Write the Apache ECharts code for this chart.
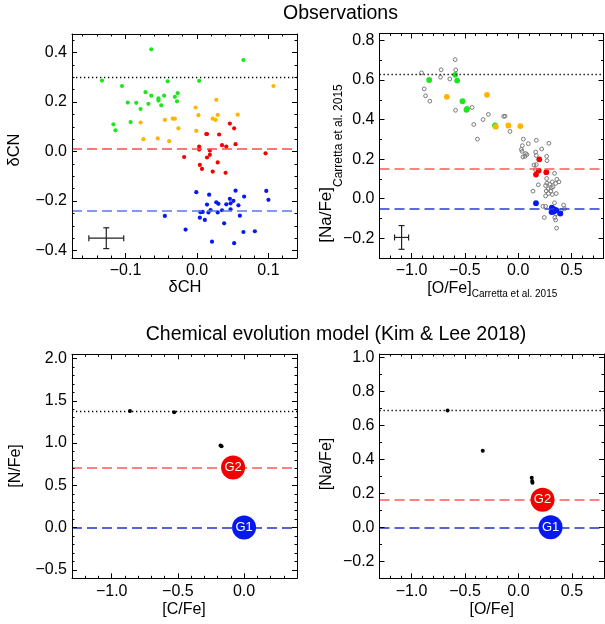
<!DOCTYPE html>
<html>
<head>
<meta charset="utf-8">
<script src="https://cdn.jsdelivr.net/npm/echarts@6/dist/echarts.min.js"></script>
<style>
  html, body { margin: 0; padding: 0; background: #fff; }
  #chart { width: 605px; height: 624px; }
</style>
</head>
<body>
<div id="chart"></div>
<script>
// ---- Observations: delta CH vs delta CN, grouped by population ----
const CNCH_GREEN = [
  [-0.133, 0.287], [-0.064, 0.413], [0.065, 0.370], [-0.105, 0.265], [-0.041, 0.284],
  [0.003, 0.286], [-0.072, 0.240], [-0.064, 0.226], [-0.054, 0.215], [-0.054, 0.206],
  [-0.046, 0.226], [-0.031, 0.221], [-0.027, 0.236], [-0.097, 0.198], [-0.085, 0.197],
  [-0.079, 0.172], [-0.068, 0.193], [-0.050, 0.187], [-0.028, 0.203], [-0.117, 0.110],
  [-0.114, 0.086], [-0.093, 0.119]
];
const CNCH_ORANGE = [
  [-0.079, 0.117], [-0.075, 0.050], [-0.055, 0.053], [-0.045, 0.128], [-0.039, 0.042],
  [-0.034, 0.133], [-0.031, 0.133], [-0.026, 0.094], [-0.002, 0.178], [-0.001, 0.084],
  [0.002, 0.147], [0.027, 0.209], [0.029, 0.148], [0.022, 0.133], [0.026, 0.128],
  [0.057, 0.149], [0.107, 0.265]
];
const CNCH_RED = [
  [-0.018, -0.022], [0.003, 0.020], [0.003, 0.008], [0.004, -0.054], [0.007, -0.070],
  [0.013, 0.071], [0.014, 0.071], [0.014, -0.024], [0.018, 0.004], [0.018, -0.013],
  [0.022, -0.081], [0.029, -0.044], [0.031, 0.069], [0.035, 0.026], [0.041, 0.020],
  [0.046, 0.113], [0.052, 0.094], [0.054, 0.030], [0.040, -0.086], [0.096, -0.007]
];
const CNCH_BLUE = [
  [-0.001, -0.164], [0.017, -0.174], [0.054, -0.158], [0.097, -0.159], [0.100, -0.195],
  [0.066, -0.182], [-0.045, -0.260], [-0.016, -0.315], [0.014, -0.214], [0.005, -0.245],
  [0.008, -0.244], [0.004, -0.267], [0.011, -0.276], [0.016, -0.246], [0.019, -0.236],
  [0.027, -0.205], [0.030, -0.211], [0.029, -0.246], [0.035, -0.237], [0.041, -0.213],
  [0.046, -0.191], [0.047, -0.209], [0.051, -0.199], [0.047, -0.233], [0.058, -0.217],
  [0.060, -0.259], [0.038, -0.290], [0.065, -0.325], [0.081, -0.322], [0.021, -0.364],
  [0.052, -0.370]
];
const CNCH_ERR = [[-0.127, -0.350, 0.0244, 0.042]];      // x, y, dx, dy
const CNCH_LINES = { dotted: 0.300, red: 0.007, blue: -0.240 };

// ---- Observations: [O/Fe] vs [Na/Fe] (Carretta et al. 2015) ----
const NAO_ALL = [
  [-0.906, 0.636], [-0.881, 0.555], [-0.868, 0.520], [-0.828, 0.493], [-0.722, 0.652],
  [-0.728, 0.614], [-0.641, 0.605], [-0.591, 0.703], [-0.585, 0.651], [-0.587, 0.447],
  [-0.432, 0.461], [-0.416, 0.375], [-0.382, 0.301], [-0.329, 0.400], [-0.279, 0.426],
  [-0.136, 0.416], [-0.123, 0.417], [-0.077, 0.340], [-0.210, 0.365], [0.049, 0.301],
  [0.170, 0.295], [0.288, 0.280], [0.095, 0.278], [0.039, 0.268], [0.220, 0.251],
  [0.030, 0.249], [0.036, 0.239], [0.070, 0.228], [0.082, 0.223], [0.045, 0.211],
  [0.064, 0.214], [0.164, 0.236], [0.170, 0.218], [0.267, 0.214], [0.270, 0.192],
  [0.148, 0.170], [0.170, 0.172], [0.161, 0.147], [0.341, 0.128], [0.267, 0.102],
  [0.189, 0.070], [0.139, 0.038], [0.363, 0.098], [0.382, 0.085], [0.351, 0.077],
  [0.320, 0.085], [0.295, 0.073], [0.270, 0.078], [0.326, 0.060], [0.311, 0.055],
  [0.283, 0.050], [0.257, 0.066], [0.264, 0.039], [0.307, 0.038], [0.283, 0.026],
  [0.320, 0.021], [0.357, 0.026], [0.257, 0.014], [0.341, -0.021], [0.232, -0.039],
  [0.257, -0.039], [0.426, -0.033], [0.435, -0.051], [0.351, -0.077], [0.344, -0.095],
  [0.245, -0.095], [0.351, -0.108], [0.360, -0.149], [0.400, -0.061]
];
const NAO_GREEN = [
  [-0.834, 0.600], [-0.591, 0.626], [-0.572, 0.597], [-0.522, 0.493], [-0.485, 0.449],
  [-0.479, 0.454], [-0.217, 0.370]
];
const NAO_ORANGE = [[-0.669, 0.515], [-0.292, 0.525], [-0.210, 0.364], [-0.092, 0.370], [0.020, 0.367]];
const NAO_RED = [[0.198, 0.199], [0.192, 0.142], [0.167, 0.122], [0.264, 0.134]];
const NAO_BLUE = [
  [0.167, -0.023], [0.316, -0.045], [0.333, -0.053], [0.357, -0.058], [0.313, -0.068],
  [0.395, -0.075], [0.335, -0.065]
];
const NAO_ERR = [[-1.093, -0.196, 0.066, 0.060]];
const NAO_LINES = { dotted: 0.625, red: 0.150, blue: -0.053 };

// ---- Chemical evolution model (Kim & Lee 2018) ----
const MODEL_CN = [[-0.862, 1.378], [-0.528, 1.363], [-0.178, 0.972], [-0.170, 0.962]];
const MODEL_CN_G1 = [['G1', 0.000, 0.000]];
const MODEL_CN_G2 = [['G2', -0.083, 0.710]];
const MODEL_CN_LINES = { dotted: 1.378, red: 0.710, blue: 0.000 };

const MODEL_NAO = [[-0.663, 0.687], [-0.334, 0.450], [0.124, 0.292], [0.128, 0.272], [0.131, 0.262]];
const MODEL_NAO_G1 = [['G1', 0.300, 0.000]];
const MODEL_NAO_G2 = [['G2', 0.225, 0.162]];
const MODEL_NAO_LINES = { dotted: 0.687, red: 0.162, blue: 0.000 };

// ---- Axis ranges and major tick labels ----
const TL_X = [-0.175, 0.14],  TL_X_TICKS = [-0.1, 0.0, 0.1],                 TL_X_MINOR = 0.02;
const TL_Y = [-0.43, 0.475],  TL_Y_TICKS = [-0.4, -0.2, 0.0, 0.2, 0.4],      TL_Y_MINOR = 0.05;
const TR_X = [-1.3, 0.8],     TR_X_TICKS = [-1.0, -0.5, 0.0, 0.5],           TR_X_MINOR = 0.1;
const TR_Y = [-0.3, 0.835],   TR_Y_TICKS = [-0.2, 0.0, 0.2, 0.4, 0.6, 0.8],  TR_Y_MINOR = 0.1;
const BL_X = [-1.3, 0.4],     BL_X_TICKS = [-1.0, -0.5, 0.0],                BL_X_MINOR = 0.1;
const BL_Y = [-0.6, 2.05],    BL_Y_TICKS = [-0.5, 0.0, 0.5, 1.0, 1.5, 2.0],  BL_Y_MINOR = 0.1;
const BR_X = [-1.3, 0.8],     BR_X_TICKS = [-1.0, -0.5, 0.0, 0.5],           BR_X_MINOR = 0.1;
const BR_Y = [-0.3, 1.02],    BR_Y_TICKS = [-0.2, 0.0, 0.2, 0.4, 0.6, 0.8, 1.0], BR_Y_MINOR = 0.1;

const FONT = '"Liberation Sans", Arial, Helvetica, sans-serif';
const C_GREEN = '#1ee61e', C_ORANGE = '#ffb400', C_RED = '#f50000', C_BLUE = '#0818f5';

function stepTicks(range, step, skip) {
  const out = [];
  for (let k = Math.ceil(range[0] / step - 1e-9); k * step <= range[1] + 1e-9; k++) {
    const v = +(k * step).toFixed(6);
    if (!skip.some(m => Math.abs(m - v) < 1e-9)) out.push(v);
  }
  return out;
}
function fmt(v) {
  const s = Math.abs(v).toFixed(1);
  return v < -1e-9 ? '\u2212' + s : s;
}
function oneAxis(dim, grid, pos, range, ticks, major, labels) {
  return {
    type: 'value', gridIndex: grid, position: pos, min: range[0], max: range[1],
    axisLine: { show: major, onZero: false, lineStyle: { color: '#000', width: 1 } },
    axisTick: { show: true, inside: true, length: major ? 5 : 2.5, customValues: ticks,
                lineStyle: { color: '#000', width: 1 } },
    axisLabel: { show: labels, customValues: ticks, formatter: fmt, margin: 5,
                 fontSize: 16, fontFamily: FONT, color: '#000', hideOverlap: false },
    splitLine: { show: false },
    z: 6
  };
}
// Four axes per side pair: labelled main axis, its minor ticks, mirrored main, mirrored minor
function axesFor(dim, grid, range, majors, minorStep) {
  const sides = dim === 'x' ? ['bottom', 'top'] : ['left', 'right'];
  const inRange = majors.filter(v => v >= range[0] - 1e-9 && v <= range[1] + 1e-9);
  const minors = stepTicks(range, minorStep, inRange);
  const out = [];
  sides.forEach((pos, i) => {
    out.push(oneAxis(dim, grid, pos, range, inRange, true, i === 0));
    out.push(oneAxis(dim, grid, pos, range, minors, false, false));
  });
  return out;
}

const xAxes = [].concat(
  axesFor('x', 0, TL_X, TL_X_TICKS, TL_X_MINOR),
  axesFor('x', 1, TR_X, TR_X_TICKS, TR_X_MINOR),
  axesFor('x', 2, BL_X, BL_X_TICKS, BL_X_MINOR),
  axesFor('x', 3, BR_X, BR_X_TICKS, BR_X_MINOR)
);
const yAxes = [].concat(
  axesFor('y', 0, TL_Y, TL_Y_TICKS, TL_Y_MINOR),
  axesFor('y', 1, TR_Y, TR_Y_TICKS, TR_Y_MINOR),
  axesFor('y', 2, BL_Y, BL_Y_TICKS, BL_Y_MINOR),
  axesFor('y', 3, BR_Y, BR_Y_TICKS, BR_Y_MINOR)
);

function refLines(lines, redColor, blueColor) {
  return {
    silent: true, symbol: ['none', 'none'], label: { show: false }, animation: false,
    emphasis: { disabled: true },
    data: [
      { yAxis: lines.dotted, lineStyle: { color: '#000', width: 1.3, type: [1.3, 2.7], opacity: 1 } },
      { yAxis: lines.red,    lineStyle: { color: redColor, width: 1.5, type: [10, 5], opacity: 1 } },
      { yAxis: lines.blue,   lineStyle: { color: blueColor, width: 1.5, type: [10, 5], opacity: 1 } }
    ]
  };
}
function dots(g, data, color, size, extra) {
  return Object.assign({
    type: 'scatter', xAxisIndex: 4 * g, yAxisIndex: 4 * g, data: data,
    symbol: 'circle', symbolSize: size, itemStyle: { color: color, opacity: 1 },
    silent: true, animation: false, z: 3
  }, extra || {});
}
function errorCross(g, data) {
  return {
    type: 'custom', xAxisIndex: 4 * g, yAxisIndex: 4 * g, data: data, silent: true,
    animation: false, z: 4,
    renderItem: function (params, api) {
      const x = api.value(0), y = api.value(1), dx = api.value(2), dy = api.value(3);
      const l = api.coord([x - dx, y]), r = api.coord([x + dx, y]);
      const t = api.coord([x, y + dy]), b = api.coord([x, y - dy]);
      const st = { stroke: '#222', lineWidth: 1.2 };
      const cap = 3;
      const seg = (x1, y1, x2, y2) => ({ type: 'line', shape: { x1, y1, x2, y2 }, style: st });
      return { type: 'group', children: [
        seg(l[0], l[1], r[0], r[1]), seg(t[0], t[1], b[0], b[1]),
        seg(l[0], l[1] - cap, l[0], l[1] + cap), seg(r[0], r[1] - cap, r[0], r[1] + cap),
        seg(t[0] - cap, t[1], t[0] + cap, t[1]), seg(b[0] - cap, b[1], b[0] + cap, b[1])
      ] };
    }
  };
}
function generation(g, rows, color) {
  return {
    type: 'scatter', xAxisIndex: 4 * g, yAxisIndex: 4 * g,
    data: rows.map(r => ({ name: r[0], value: [r[1], r[2]] })),
    symbol: 'circle', symbolSize: 24, itemStyle: { color: color, opacity: 1 },
    label: { show: true, position: 'inside', formatter: '{b}', color: '#fff',
             fontSize: 13, fontFamily: FONT },
    silent: true, animation: false, z: 5
  };
}

const series = [
  // top left
  dots(0, CNCH_GREEN, C_GREEN, 4.2, { markLine: refLines(CNCH_LINES, '#ff4c4c', '#5a78ee') }),
  dots(0, CNCH_ORANGE, C_ORANGE, 4.2),
  dots(0, CNCH_RED, C_RED, 4.2),
  dots(0, CNCH_BLUE, C_BLUE, 4.2),
  errorCross(0, CNCH_ERR),
  // top right
  dots(1, NAO_ALL, 'rgba(255,255,255,0)', 3.8, {
    itemStyle: { color: 'rgba(255,255,255,0)', borderColor: '#7a7a7a', borderWidth: 1, opacity: 1 },
    markLine: refLines(NAO_LINES, '#ff5a5a', '#2a3ad8')
  }),
  dots(1, NAO_GREEN, C_GREEN, 5.8),
  dots(1, NAO_ORANGE, C_ORANGE, 5.8),
  dots(1, NAO_RED, C_RED, 5.8),
  dots(1, NAO_BLUE, C_BLUE, 5.8),
  errorCross(1, NAO_ERR),
  // bottom left
  dots(2, MODEL_CN, '#000', 4, { markLine: refLines(MODEL_CN_LINES, '#ff5a5a', '#2030c8') }),
  generation(2, MODEL_CN_G2, '#f50000'),
  generation(2, MODEL_CN_G1, '#0818f0'),
  // bottom right
  dots(3, MODEL_NAO, '#000', 4, { markLine: refLines(MODEL_NAO_LINES, '#ff5a5a', '#2030c8') }),
  generation(3, MODEL_NAO_G2, '#f50000'),
  generation(3, MODEL_NAO_G1, '#0818f0')
];

function txt(x, y, text, size, opts) {
  opts = opts || {};
  return {
    type: 'text', x: x, y: y, rotation: opts.rot || 0, silent: true, z: 10,
    style: {
      text: text, font: size + 'px ' + FONT, fill: '#000',
      textAlign: opts.align || 'center', align: opts.align || 'center',
      textVerticalAlign: 'middle', verticalAlign: 'middle'
    }
  };
}
const R90 = Math.PI / 2;
const graphics = [
  txt(340.5, 14, 'Observations', 19.5),
  txt(336, 335, 'Chemical evolution model (Kim & Lee 2018)', 19.5),
  txt(14, 150, '\u03b4CN', 16.5, { rot: R90 }),
  txt(185, 287, '\u03b4CH', 16.5),
  txt(326, 187, '[Na/Fe]', 17, { rot: R90, align: 'right' }),
  txt(338.5, 187, 'Carretta et al. 2015', 12, { rot: R90, align: 'left' }),
  txt(471.7, 289, '[O/Fe]', 16, { align: 'right' }),
  txt(471.7, 294.5, 'Carretta et al. 2015', 10, { align: 'left' }),
  txt(15.5, 466, '[N/Fe]', 16, { rot: R90 }),
  txt(184, 610, '[C/Fe]', 16),
  txt(326.5, 464, '[Na/Fe]', 16, { rot: R90 }),
  txt(491.7, 610, '[O/Fe]', 16)
];

const chart = echarts.init(document.getElementById('chart'), null, { renderer: 'canvas' });
chart.setOption({
  backgroundColor: '#fff',
  animation: false,
  grid: [
    { left: 72, top: 34, width: 225, height: 224 },
    { left: 379.5, top: 33.5, width: 224, height: 224.5 },
    { left: 72, top: 354.3, width: 225, height: 224 },
    { left: 379.5, top: 354, width: 224.5, height: 224.3 }
  ],
  xAxis: xAxes,
  yAxis: yAxes,
  series: series,
  graphic: graphics
});
</script>
</body>
</html>
